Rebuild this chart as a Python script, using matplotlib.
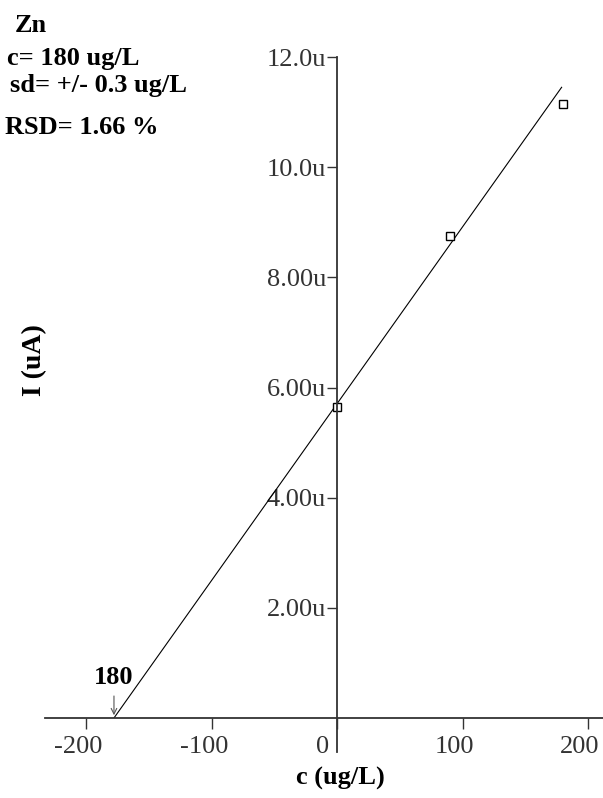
import matplotlib
matplotlib.use("Agg")
import matplotlib.pyplot as plt
from matplotlib.transforms import ScaledTranslation

plt.rcParams["font.family"] = ["Liberation Serif", "DejaVu Serif"]

# standard addition data, current in uA
std_x = [0, 90, 180]
std_y = [5.64, 8.75, 11.14]
# regression line as drawn
fit_x = [-178, 179]
fit_y = [0, 11.45]
intercept_x = -178

xticks = [-200, -100, 0, 100, 200]
xticklabels = ["-200", "-100", "0", "100", "200"]
yticks = [2, 4, 6, 8, 10, 12]
yticklabels = ["2.00u", "4.00u", "6.00u", "8.00u", "10.0u", "12.0u"]

info = ["Zn", "c= 180 ug/L", "sd= +/- 0.3 ug/L", "RSD= 1.66 %"]

W, H = 603, 798
fig = plt.figure(figsize=(W / 100, H / 100), dpi=100)
ax = fig.add_axes([45 / W, 80 / H, 558 / W, 661 / H])

axcol = "#333333"
ax.plot(fit_x, fit_y, color="black", lw=0.8)
ax.plot(std_x, std_y, "s", mfc="white", mec="black", ms=5.5, mew=1.0)

ax.set_xlim(-233, 212)
ax.set_ylim(0, 12)

for s in ["top", "right"]:
    ax.spines[s].set_visible(False)
ax.spines["left"].set_position(("data", 0))
for s in ["left", "bottom"]:
    ax.spines[s].set_color(axcol)
    ax.spines[s].set_linewidth(1.3)
# y axis runs a little below the x axis
ax.plot([0, 0], [0, -0.62], color=axcol, lw=1.3, clip_on=False)

ax.set_xticks(xticks, xticklabels)
ax.set_yticks(yticks, yticklabels)
ax.tick_params(axis="x", direction="out", length=8, width=1, pad=5,
               labelsize=19, labelcolor=axcol, color=axcol)
ax.tick_params(axis="y", direction="out", length=7, width=1, pad=1,
               labelsize=19, labelcolor=axcol, color=axcol)
# x labels sit a bit left of their ticks
shift = ScaledTranslation(-8 / 100, 0, fig.dpi_scale_trans)
for lab in ax.get_xticklabels():
    lab.set_transform(lab.get_transform() + shift)
ax.get_xticklabels()[2].set_horizontalalignment("right")

ax.annotate("", xy=(intercept_x, 0), xytext=(intercept_x, 0.45),
            arrowprops=dict(arrowstyle="->", color="#555555", lw=0.8))
ax.text(intercept_x, 0.62, "180", ha="center", va="baseline",
        fontsize=19, fontweight="bold")

ax.set_xlabel("c (ug/L)", fontsize=19, fontweight="bold")
ax.xaxis.set_label_coords((340 - 45) / 558, (718 - 767) / 661)
ax.set_ylabel("I (uA)", fontsize=20, fontweight="bold")
ax.yaxis.set_label_coords((47 - 45) / 558, (718 - 360) / 661)

pos = [(15, 32), (7, 65), (10, 92), (5, 134)]
for txt, (px, py) in zip(info, pos):
    fig.text(px / W, 1 - py / H, txt, ha="left", va="baseline",
             fontsize=19, fontweight="bold")

fig.savefig("out.png", dpi=100)
